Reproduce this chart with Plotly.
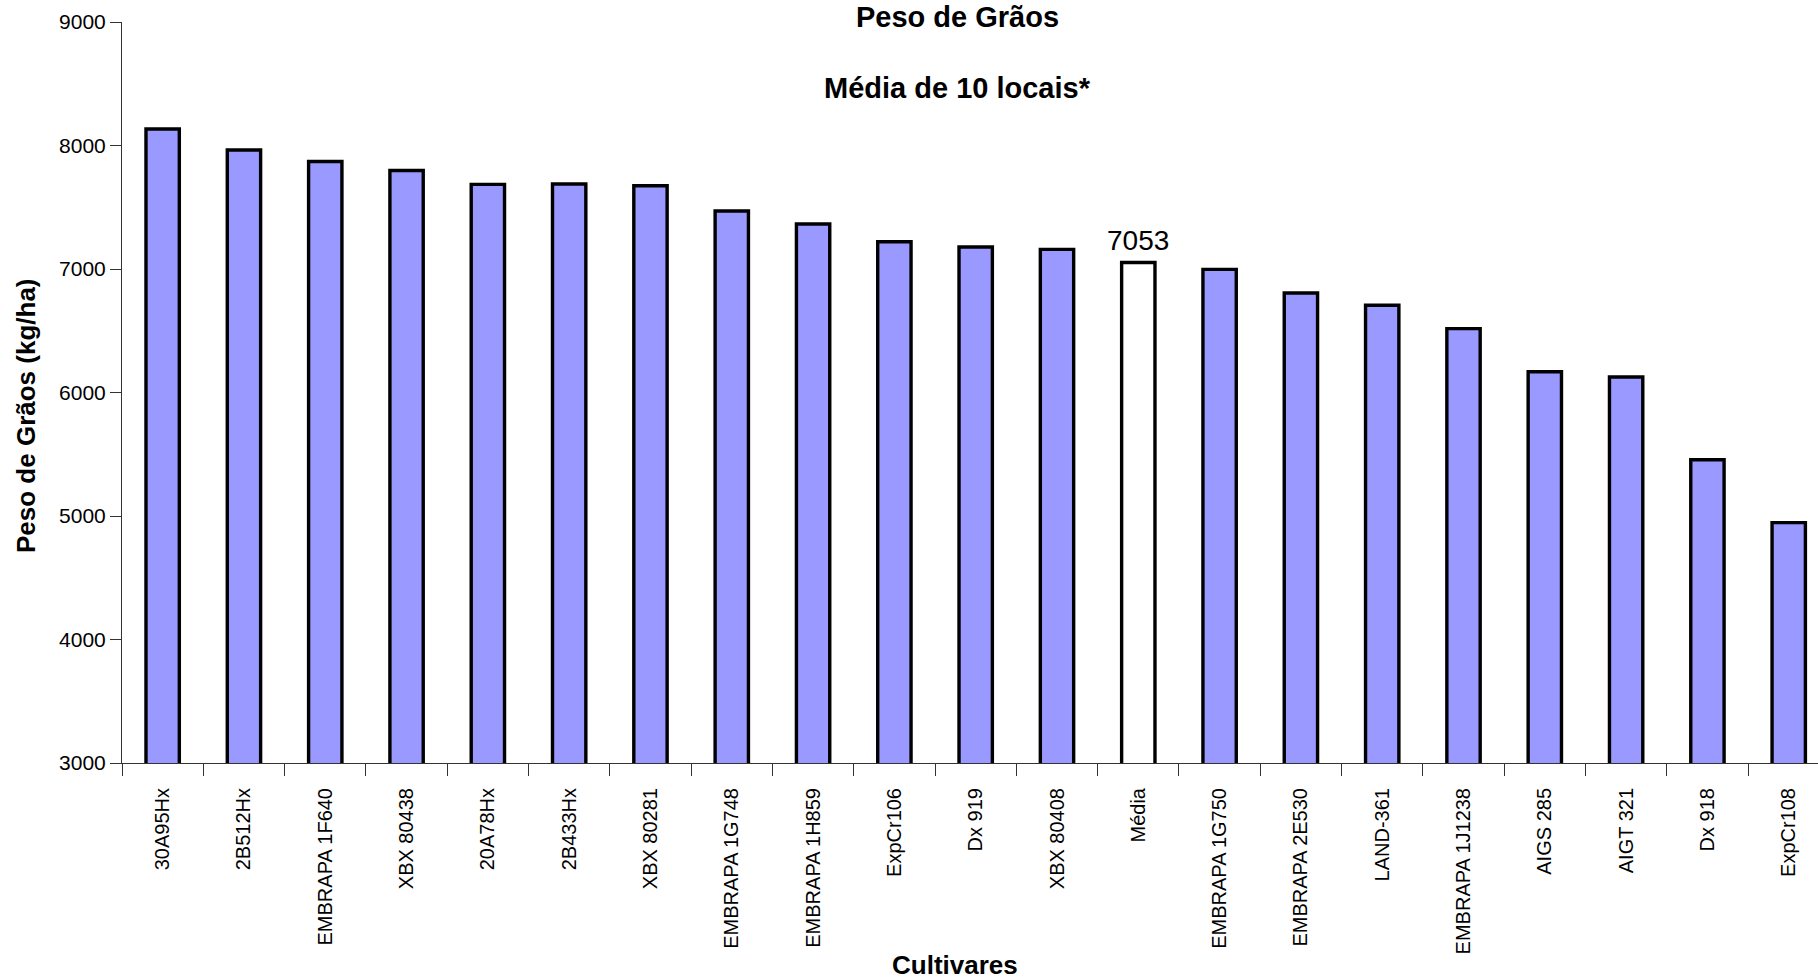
import plotly.graph_objects as go

categories = ["30A95Hx", "2B512Hx", "EMBRAPA 1F640", "XBX 80438", "20A78Hx", "2B433Hx",
              "XBX 80281", "EMBRAPA 1G748", "EMBRAPA 1H859", "ExpCr106", "Dx 919",
              "XBX 80408", "Média", "EMBRAPA 1G750", "EMBRAPA 2E530", "LAND-361",
              "EMBRAPA 1J1238", "AIGS 285", "AIGT 321", "Dx 918", "ExpCr108"]
values = [8134, 7964, 7871, 7798, 7685, 7688, 7674, 7470, 7364, 7221, 7178,
          7159, 7053, 6997, 6806, 6707, 6517, 6168, 6126, 5456, 4946]
y_ticks = [3000, 4000, 5000, 6000, 7000, 8000, 9000]
mean_name = "Média"
mean_text = "7053"

FONT = "Liberation Sans, Arial, sans-serif"
fills = ["#FFFFFF" if c == mean_name else "#9999FF" for c in categories]

fig = go.Figure(go.Bar(
    x=categories, y=values, width=0.41,
    marker=dict(color=fills, line=dict(color="black", width=3.4)),
    hoverinfo="x+y",
))

fig.update_layout(
    width=1818, height=980,
    margin=dict(l=122, r=0, t=22, b=217),
    paper_bgcolor="white", plot_bgcolor="white",
    showlegend=False,
    font=dict(family=FONT, color="black"),
    xaxis=dict(
        type="category", range=[-0.5, 20.36],
        showline=True, linecolor="#333333", linewidth=1,
        ticks="outside", ticklen=12, tickcolor="#333333", tickson="boundaries",
        tickangle=-90, tickfont=dict(size=20, family=FONT, color="black"),
        ticklabelstandoff=16, showgrid=False, zeroline=False,
    ),
    yaxis=dict(
        range=[3000, 9000], tickvals=y_ticks,
        showline=True, linecolor="#333333", linewidth=1,
        ticks="outside", ticklen=11, tickcolor="#333333",
        tickfont=dict(size=21, family=FONT, color="black"),
        showgrid=False, zeroline=False,
    ),
    annotations=[
        dict(text="<b>Peso de Grãos</b>", xref="paper", yref="paper",
             x=0.4929, y=(763 - 17) / 741, xanchor="center", yanchor="middle",
             showarrow=False, font=dict(size=29, family=FONT)),
        dict(text="<b>Média de 10 locais*</b>", xref="paper", yref="paper",
             x=0.4929, y=(763 - 88) / 741, xanchor="center", yanchor="middle",
             showarrow=False, font=dict(size=29, family=FONT)),
        dict(text="<b>Peso de Grãos (kg/ha)</b>", xref="paper", yref="paper",
             x=(26 - 122) / 1696, y=(763 - 416) / 741, xanchor="center", yanchor="middle",
             textangle=-90, showarrow=False, font=dict(size=26, family=FONT)),
        dict(text="<b>Cultivares</b>", xref="paper", yref="paper",
             x=(955 - 122) / 1696, y=(763 - 965) / 741, xanchor="center", yanchor="middle",
             showarrow=False, font=dict(size=26, family=FONT)),
        dict(text=mean_text, x=mean_name, y=values[categories.index(mean_name)],
             xref="x", yref="y", xanchor="center", yanchor="bottom", yshift=4,
             showarrow=False, font=dict(size=28, family=FONT)),
    ],
)

fig.write_html("out.html", config={"displayModeBar": False},
               post_script="document.body.style.margin='0';")
